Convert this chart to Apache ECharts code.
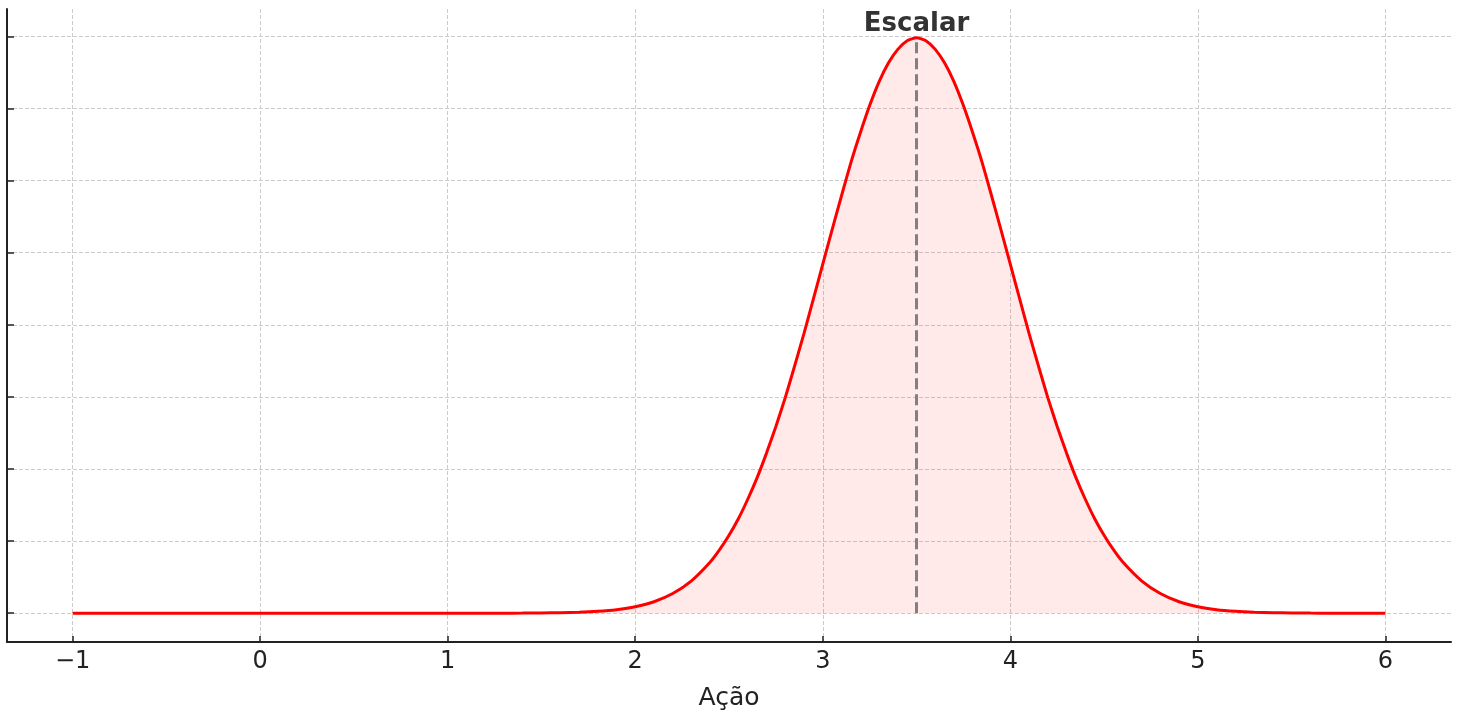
<!DOCTYPE html>
<html>
<head>
<meta charset="utf-8">
<script src="https://cdn.jsdelivr.net/npm/echarts@6/dist/echarts.min.js"></script>
<style>
html,body{margin:0;padding:0;background:#fff;}
#chart{width:1460px;height:719px;}
</style>
</head>
<body>
<div id="chart"></div>
<script>
// Action values (x) and density (y)
var actions = [-1.0,-0.8,-0.6,-0.4,-0.2,0.0,0.2,0.4,0.6,0.8,1.0,1.2,1.3,
  1.4,1.5,1.6,1.7,1.8,1.9,2.0,2.1,2.2,2.3,2.4,2.45,2.5,2.55,2.6,2.65,2.7,2.75,2.8,2.85,2.9,2.95,3.0,3.05,3.1,3.15,3.2,3.25,3.3,3.35,3.4,3.45,
  3.5,
  3.55,3.6,3.65,3.7,3.75,3.8,3.85,3.9,3.95,4.0,4.05,4.1,4.15,4.2,4.25,4.3,4.35,4.4,4.45,4.5,4.55,4.6,4.7,4.8,4.9,5.0,5.1,5.2,5.3,5.4,5.5,5.6,
  5.7,5.8,6.0];
var density = [0,0,0,0,0,0,0,0,0,0,0,0,0,
  0.0001,0.0003,0.0006,0.0012,0.0025,0.0048,0.0089,0.0158,0.0272,0.0448,0.0709,0.0880,0.108,0.131,0.158,0.188,0.222,0.259,0.299,0.343,0.388,0.436,0.484,0.532,0.579,0.625,0.666,0.704,0.737,0.763,0.782,0.794,
  0.798,
  0.794,0.782,0.763,0.737,0.704,0.666,0.625,0.579,0.532,0.484,0.436,0.388,0.343,0.299,0.259,0.222,0.188,0.158,0.131,0.108,0.0880,0.0709,0.0448,0.0272,0.0158,0.0089,0.0048,0.0025,0.0012,0.0006,0.0003,0.0001,
  0,0,0];
var scalarAction = 3.5;
var scalarPeak = 0.798;
var scalarLabel = 'Escalar';
var xTicks = [-1,0,1,2,3,4,5,6];
var yTicks = [0,0.1,0.2,0.3,0.4,0.5,0.6,0.7,0.8];
var xName = 'Ação';

var curve = actions.map(function(a,i){return [a, density[i]];});

var chart = echarts.init(document.getElementById('chart'), null, {renderer:'canvas'});
var gridLine = {show:true, lineStyle:{color:'#cccccc', width:1, type:[4,2]}};
chart.setOption({
  animation:false,
  backgroundColor:'#ffffff',
  grid:{left:7, right:9, top:9, bottom:77, containLabel:false, outerBoundsMode:'none'},
  xAxis:{
    type:'value', min:-1.35, max:6.35, splitNumber:8, minInterval:1, maxInterval:1,
    name:xName, nameLocation:'middle', nameGap:44,
    nameTextStyle:{fontFamily:'DejaVu Sans', fontSize:25, color:'#222'},
    axisLine:{show:true, onZero:false, lineStyle:{color:'#222', width:2}},
    axisTick:{show:true, inside:true, length:6, customValues:xTicks, lineStyle:{color:'#222', width:1.5}},
    axisLabel:{show:true, customValues:xTicks, margin:8, fontFamily:'DejaVu Sans', fontSize:24, color:'#222',
      formatter:function(v){return String(v).replace('-','\u2212');}},
    splitLine:gridLine
  },
  yAxis:{
    type:'value', min:-0.04, max:0.838, splitNumber:9, minInterval:0.1, maxInterval:0.1,
    axisLine:{show:true, onZero:false, lineStyle:{color:'#222', width:2}},
    axisTick:{show:true, inside:true, length:7, customValues:yTicks, lineStyle:{color:'#222', width:1.5}},
    axisLabel:{show:false},
    splitLine:gridLine
  },
  series:[
    {
      type:'line', data:curve, smooth:0.2, showSymbol:false, symbol:'none',
      lineStyle:{color:'#ff0000', width:3},
      areaStyle:{color:'rgba(255,0,0,0.12)', origin:0},
      z:3
    },
    {
      type:'line', data:[], z:6, silent:true,
      markLine:{
        silent:true, symbol:['none','none'], animation:false, z:6,
        lineStyle:{color:'#808080', width:3, type:[11,5], opacity:1},
        label:{show:true, position:'end', distance:1, formatter:scalarLabel,
          fontFamily:'DejaVu Sans', fontWeight:'bold', fontSize:26, color:'#333'},
        emphasis:{disabled:true},
        data:[[{coord:[scalarAction,0]},{coord:[scalarAction,scalarPeak]}]]
      }
    }
  ]
});
</script>
</body>
</html>
